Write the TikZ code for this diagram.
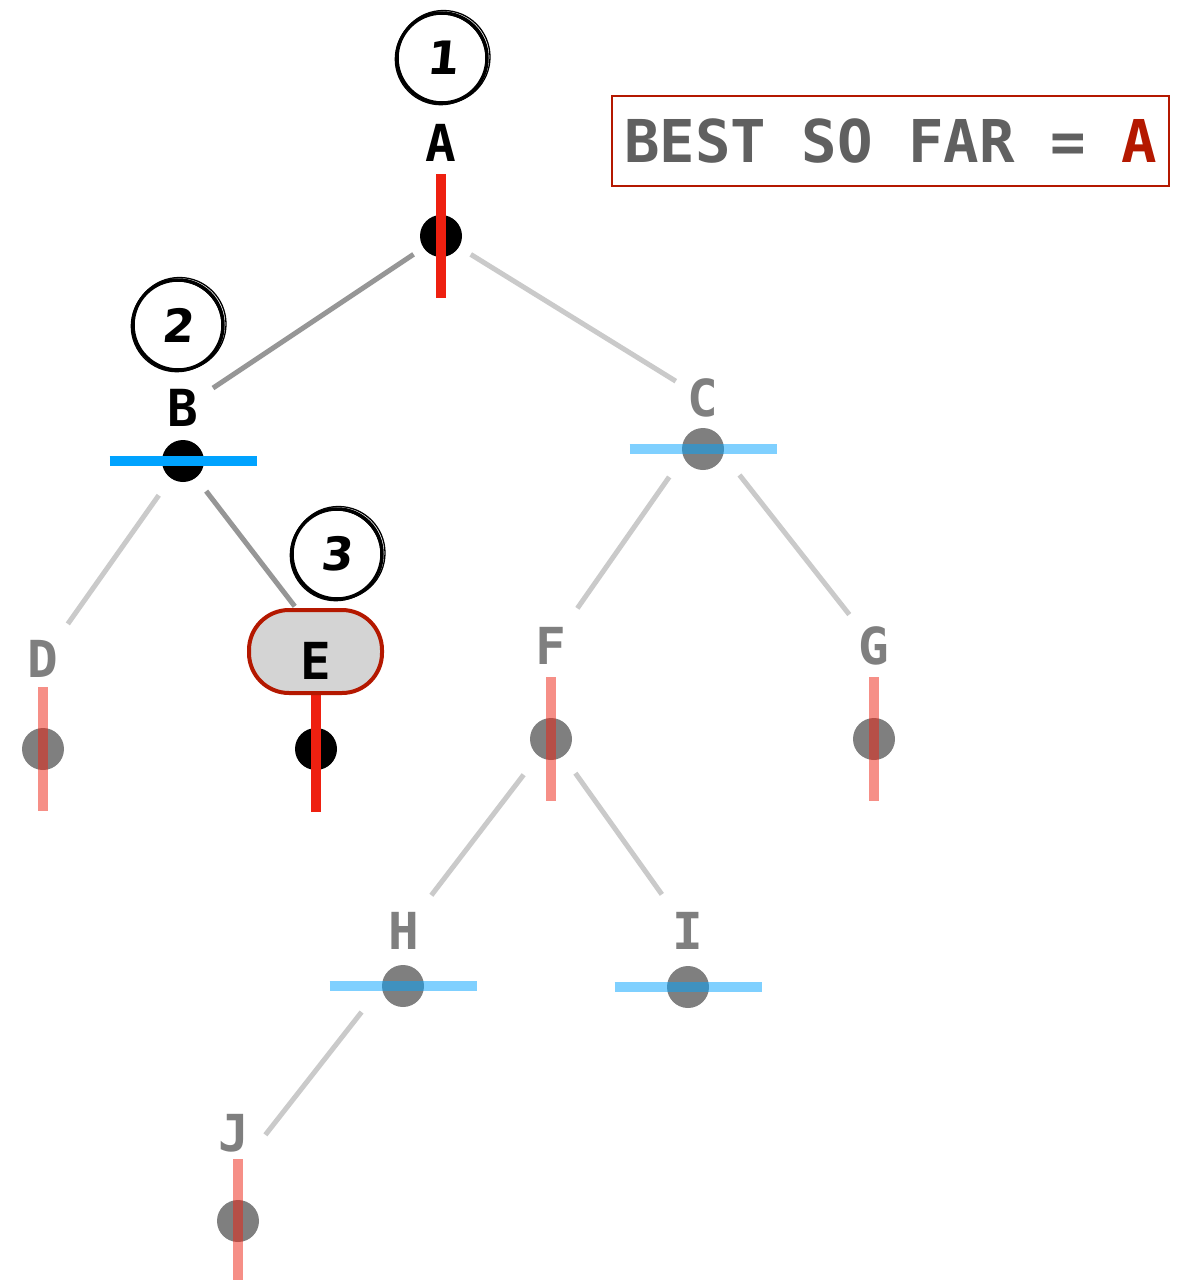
\documentclass[tikz,border=0pt]{standalone}
\usepackage{fontspec}
\setmainfont{DejaVu Sans}
\newfontfamily\labfont{DejaVu Sans Mono}
\newfontfamily\digfont{DejaVu Sans}[FakeSlant=0.1]
\usetikzlibrary{calc}
\definecolor{redbar}{RGB}{238,32,16}
\definecolor{bluebar}{RGB}{0,163,255}
\definecolor{darkred}{RGB}{180,24,0}
\definecolor{boxgray}{RGB}{96,96,96}
\definecolor{edgeon}{RGB}{150,150,150}
\definecolor{edgeoff}{RGB}{202,202,202}
\definecolor{efill}{RGB}{212,212,212}
\tikzset{
  lab/.style={font=\labfont\bfseries\fontsize{51}{51}\selectfont, inner sep=0pt, text=black},
  dim/.style={opacity=0.5},
  dotnode/.style={circle, fill=black, minimum size=42pt, inner sep=0pt},
  vbar/.style={draw=redbar, line width=10pt},
  hbar/.style={draw=bluebar, line width=10pt},
  edgeon/.style={draw=edgeon, line width=5pt},
  edgeoff/.style={draw=edgeoff, line width=5pt},
  stepnum/.style={circle, draw=black, line width=3.5pt, minimum size=90pt, inner sep=0pt,
    font=\digfont\bfseries\fontsize{46}{46}\selectfont},
  rough/.style={draw=black, line width=1.3pt},
  bestbox/.style={draw=darkred, line width=2.5pt, minimum width=557pt, minimum height=90pt,
    inner sep=0pt, font=\labfont\bfseries\fontsize{59}{59}\selectfont},
  ebox/.style={draw=darkred, line width=4pt, fill=efill, rounded corners=40pt,
    minimum width=133pt, minimum height=83pt, inner sep=0pt, text height=60pt, text depth=5pt,
    font=\labfont\bfseries\fontsize{51}{51}\selectfont},
}
\begin{document}
\begin{tikzpicture}[x=1pt,y=-1pt]
\useasboundingbox (0,0) rectangle (1179,1280);
\fill[white] (0,0) rectangle (1179,1280);

% best-so-far box
\node[bestbox] (best) at (890.5,141) {\textcolor{boxgray}{BEST SO FAR =} \textcolor{darkred}{A}};

% step circles
\node[stepnum] (s1) at (442,58) {1};
\draw[rough] ($(s1)+(1.5,-1)$) circle (46.5pt);
\draw[rough] ($(s1)+(-1.2,1.2)$) circle (45.5pt);
\node[stepnum] (s2) at (178,325) {2};
\draw[rough] ($(s2)+(1.5,-1)$) circle (46.5pt);
\draw[rough] ($(s2)+(-1.2,1.2)$) circle (45.5pt);
\node[stepnum] (s3) at (337,554) {3};
\draw[rough] ($(s3)+(1.5,-1)$) circle (46.5pt);
\draw[rough] ($(s3)+(-1.2,1.2)$) circle (45.5pt);

% A (active)
\node[lab] (Alab) at (441,143) {A};
\node[dotnode] (Adot) at (441,236) {};
\draw[vbar] ($(Adot)+(0,-62)$) -- ($(Adot)+(0,62)$);

% B (active)
\node[lab] (Blab) at (183,408) {B};
\node[dotnode] (Bdot) at (183,461) {};
\draw[hbar] ($(Bdot)+(-73.5,0)$) -- ($(Bdot)+(73.5,0)$);

% C (dim)
\node[lab, dim] (Clab) at (703,398) {C};
\node[dotnode, dim] (Cdot) at (703,449) {};
\draw[hbar, dim] ($(Cdot)+(-73.5,0)$) -- ($(Cdot)+(73.5,0)$);

% D (dim)
\node[lab, dim] (Dlab) at (43,659) {D};
\node[dotnode, dim] (Ddot) at (43,749) {};
\draw[vbar, dim] ($(Ddot)+(0,-62)$) -- ($(Ddot)+(0,62)$);

% E (current)
\node[dotnode] (Edot) at (316,749) {};
\draw[vbar] ($(Edot)+(0,-57)$) -- ($(Edot)+(0,63)$);
\node[ebox] (E) at (315.5,651.5) {E};

% F (dim)
\node[lab, dim] (Flab) at (551,646) {F};
\node[dotnode, dim] (Fdot) at (551,739) {};
\draw[vbar, dim] ($(Fdot)+(0,-62)$) -- ($(Fdot)+(0,62)$);

% G (dim)
\node[lab, dim] (Glab) at (874,646) {G};
\node[dotnode, dim] (Gdot) at (874,739) {};
\draw[vbar, dim] ($(Gdot)+(0,-62)$) -- ($(Gdot)+(0,62)$);

% H (dim)
\node[lab, dim] (Hlab) at (404,931) {H};
\node[dotnode, dim] (Hdot) at (403,986) {};
\draw[hbar, dim] ($(Hdot)+(-73.5,0)$) -- ($(Hdot)+(73.5,0)$);

% I (dim)
\node[lab, dim] (Ilab) at (688,931) {I};
\node[dotnode, dim] (Idot) at (688,987) {};
\draw[hbar, dim] ($(Idot)+(-73.5,0)$) -- ($(Idot)+(73.5,0)$);

% J (dim)
\node[lab, dim] (Jlab) at (234,1133) {J};
\node[dotnode, dim] (Jdot) at (238,1221) {};
\draw[vbar, dim] ($(Jdot)+(-0.5,-62)$) -- ($(Jdot)+(-0.5,62)$);

% edges
\draw[edgeon, shorten <=33pt, shorten >=36pt] (Adot.center) -- (Blab.center);
\draw[edgeoff, shorten <=35pt, shorten >=32pt] (Adot.center) -- (Clab.center);
\draw[edgeoff, shorten <=42pt, shorten >=43pt] (Bdot.center) -- (Dlab.center);
\draw[edgeon, shorten <=38pt, shorten >=57pt] (Bdot.center) -- ($(E.center)+(14,0)$);
\draw[edgeoff, shorten <=59pt, shorten >=46pt] ($(Clab)!0.6!(Cdot)$) -- (Flab.center);
\draw[edgeoff, shorten <=59pt, shorten >=40pt] ($(Clab)!0.6!(Cdot)$) -- (Glab.center);
\draw[edgeoff, shorten <=45pt, shorten >=45pt] (Fdot.center) -- (Hlab.center);
\draw[edgeoff, shorten <=42pt, shorten >=45pt] (Fdot.center) -- (Ilab.center);
\draw[edgeoff, shorten <=68pt, shorten >=48pt] ($(Hlab)!0.5!(Hdot)$) -- ($(Jlab)!0.45!(Jdot)$);
\end{tikzpicture}
\end{document}
